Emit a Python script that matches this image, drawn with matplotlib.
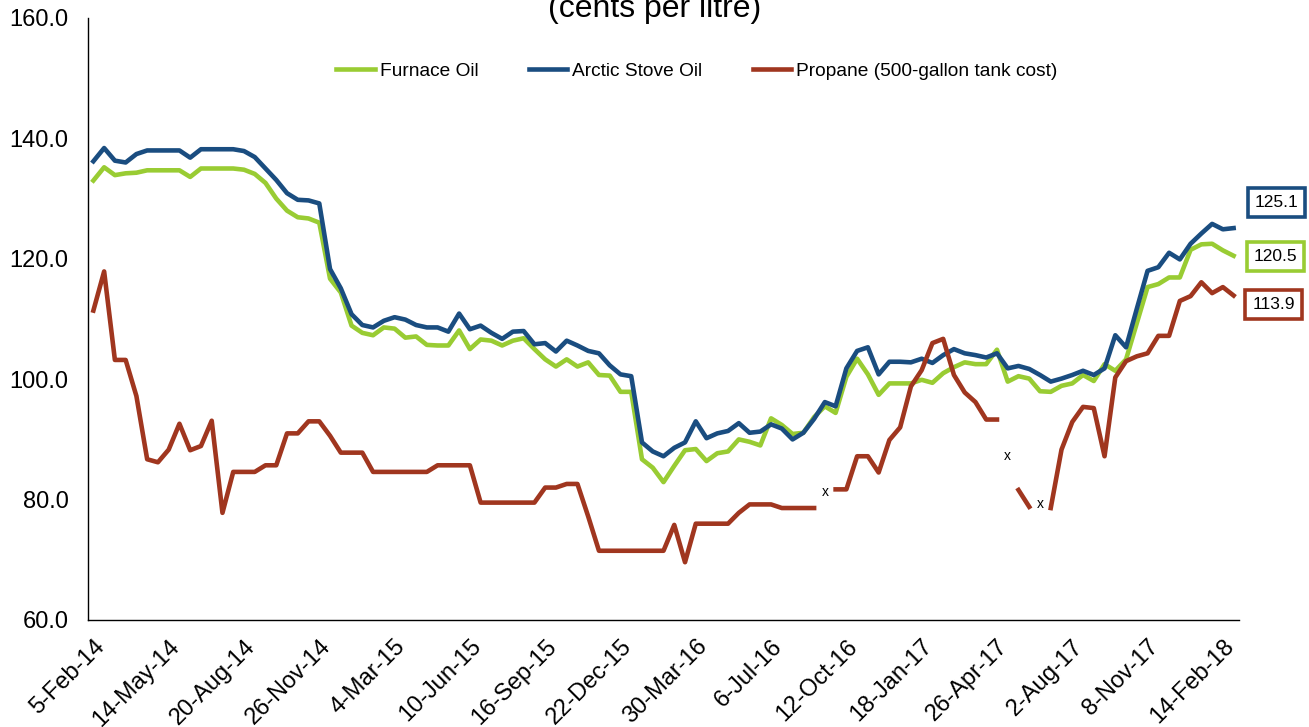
import numpy as np
import matplotlib
matplotlib.use('Agg')
import matplotlib.pyplot as plt
from matplotlib.patches import Rectangle

plt.rcParams['font.family'] = ['Liberation Sans', 'DejaVu Sans']

W, H, DPI = 1309, 727, 100

# bi-weekly survey points, 5-Feb-14 .. 28-Feb-18 (107 points)
tick_labels = ['5-Feb-14', '14-May-14', '20-Aug-14', '26-Nov-14', '4-Mar-15',
               '10-Jun-15', '16-Sep-15', '22-Dec-15', '30-Mar-16', '6-Jul-16',
               '12-Oct-16', '18-Jan-17', '26-Apr-17', '2-Aug-17', '8-Nov-17',
               '14-Feb-18']

furnace_oil = [
    133.0, 135.2, 133.9, 134.2, 134.3, 134.7, 134.7, 134.7, 134.7, 133.6,
    135.0, 135.0, 135.0, 135.0, 134.8, 134.1, 132.6, 130.0, 128.0, 126.9,
    126.7, 126.0, 116.7, 114.4, 108.9, 107.7, 107.3, 108.6, 108.4, 106.9,
    107.1, 105.7, 105.6, 105.6, 108.1, 105.0, 106.6, 106.4, 105.6, 106.4,
    106.8, 105.0, 103.3, 102.1, 103.3, 102.1, 102.8, 100.7, 100.6, 97.9,
    97.9, 86.7, 85.3, 82.9, 85.6, 88.2, 88.4, 86.4, 87.7, 88.0,
    90.0, 89.6, 89.0, 93.5, 92.4, 90.9, 91.1, 93.7, 95.5, 94.4,
    100.4, 103.4, 100.8, 97.4, 99.3, 99.3, 99.3, 99.9, 99.4, 101.0,
    102.0, 102.8, 102.5, 102.5, 104.9, 99.6, 100.5, 100.1, 98.0, 97.9,
    98.9, 99.3, 100.7, 99.7, 102.5, 101.4, 103.3, 109.3, 115.3, 115.8,
    116.9, 116.9, 121.5, 122.4, 122.5, 121.4, 120.5]

arctic_stove_oil = [
    136.2, 138.4, 136.3, 136.0, 137.4, 138.0, 138.0, 138.0, 138.0, 136.8,
    138.2, 138.2, 138.2, 138.2, 137.9, 136.9, 135.0, 133.1, 130.9, 129.8,
    129.7, 129.2, 118.3, 115.1, 110.8, 109.0, 108.6, 109.7, 110.3, 109.9,
    109.0, 108.6, 108.6, 107.9, 110.9, 108.3, 108.9, 107.7, 106.7, 107.9,
    108.0, 105.8, 106.0, 104.6, 106.4, 105.6, 104.7, 104.3, 102.3, 100.8,
    100.5, 89.5, 88.0, 87.2, 88.6, 89.5, 93.0, 90.2, 91.0, 91.4,
    92.7, 91.1, 91.3, 92.5, 91.8, 90.0, 91.1, 93.4, 96.2, 95.5,
    101.8, 104.7, 105.3, 100.8, 102.9, 102.9, 102.8, 103.4, 102.7, 104.0,
    105.0, 104.3, 104.0, 103.6, 104.3, 101.8, 102.2, 101.7, 100.7, 99.6,
    100.1, 100.7, 101.4, 100.7, 101.8, 107.3, 105.3, 111.7, 118.0, 118.6,
    121.0, 119.9, 122.5, 124.2, 125.8, 124.9, 125.1]

nan = np.nan
propane = [
    111.4, 117.9, 103.2, 103.2, 97.2, 86.7, 86.2, 88.3, 92.6, 88.2,
    88.9, 93.1, 77.8, 84.6, 84.6, 84.6, 85.7, 85.7, 91.0, 91.0,
    93.0, 93.0, 90.6, 87.8, 87.8, 87.8, 84.6, 84.6, 84.6, 84.6,
    84.6, 84.6, 85.7, 85.7, 85.7, 85.7, 79.5, 79.5, 79.5, 79.5,
    79.5, 79.5, 82.0, 82.0, 82.6, 82.6, 77.2, 71.5, 71.5, 71.5,
    71.5, 71.5, 71.5, 71.5, 75.8, 69.6, 76.0, 76.0, 76.0, 76.0,
    77.8, 79.2, 79.2, 79.2, 78.6, 78.6, 78.6, 78.6, nan, 81.7,
    81.7, 87.2, 87.2, 84.5, 89.9, 92.0, 98.8, 101.5, 106.0, 106.7,
    100.7, 97.8, 96.2, 93.3, 93.3, nan, 81.6, 78.8, nan, 78.6,
    88.3, 92.9, 95.4, 95.2, 87.2, 100.3, 103.0, 103.8, 104.3, 107.2,
    107.2, 113.0, 113.8, 116.1, 114.3, 115.3, 113.9]

# "x" marks where propane was not reported
missing_idx = [68, 85, 88]
missing_y = [81.2, 87.2, 79.3]

GREEN = '#99CC33'
BLUE = '#1A4D80'
RED = '#A0361F'


def px(x, y):
    return x / W, 1 - y / H


fig = plt.figure(figsize=(W / DPI, H / DPI), dpi=DPI)
l, b = px(88, 620)
r, t = px(1239, 18)
ax = fig.add_axes([l, b, r - l, t - b])

n = len(furnace_oil)
idx = np.arange(n)
ax.plot(idx, furnace_oil, color=GREEN, lw=3.3, label='Furnace Oil')
ax.plot(idx, arctic_stove_oil, color=BLUE, lw=3.3, label='Arctic Stove Oil')
ax.plot(idx, propane, color=RED, lw=3.3, label='Propane (500-gallon tank cost)')

for i, yv in zip(missing_idx, missing_y):
    ax.text(i, yv, 'x', fontsize=10, ha='center', va='center', color='black')

ax.set_xlim(-0.5, n - 0.5)
ax.set_ylim(60, 160)
ax.set_yticks(np.arange(60, 161, 20))
ax.set_yticklabels([f'{v:.1f}' for v in np.arange(60, 161, 20)])
ax.set_xticks(np.arange(0, n, 7)[:len(tick_labels)])
ax.set_xticklabels(tick_labels, rotation=45, ha='right', rotation_mode='anchor')
ax.tick_params(axis='y', length=0, pad=14, labelsize=17)
ax.tick_params(axis='x', length=0, pad=11, labelsize=17)

for s in ['top', 'right']:
    ax.spines[s].set_visible(False)
for s in ['left', 'bottom']:
    ax.spines[s].set_linewidth(1.0)
    ax.spines[s].set_color('black')

leg = ax.legend(loc='center', bbox_to_anchor=px(697, 71), bbox_transform=fig.transFigure,
                ncol=3, frameon=False, fontsize=13.8, handlelength=2.0,
                handletextpad=0.25, columnspacing=2.65)

fig.text(0.5, 1 - 17 / H, '(cents per litre)', ha='center', va='baseline', fontsize=23)

# end-value boxes
boxes = [(arctic_stove_oil[-1], BLUE, 1248, 188),
         (furnace_oil[-1], GREEN, 1247, 242),
         (propane[-1], RED, 1245, 290)]
for val, col, bx, by in boxes:
    x0, y0 = px(bx, by + 29)
    fig.patches.append(Rectangle((x0, y0), 57 / W, 29 / H, transform=fig.transFigure,
                                 facecolor='white', edgecolor=col, lw=2.6))
    cx, cy = px(bx + 28.5, by + 14.5)
    fig.text(cx, cy, f'{val:.1f}', ha='center', va='center', fontsize=12.5)

fig.savefig('out.png', dpi=DPI, facecolor='white')
